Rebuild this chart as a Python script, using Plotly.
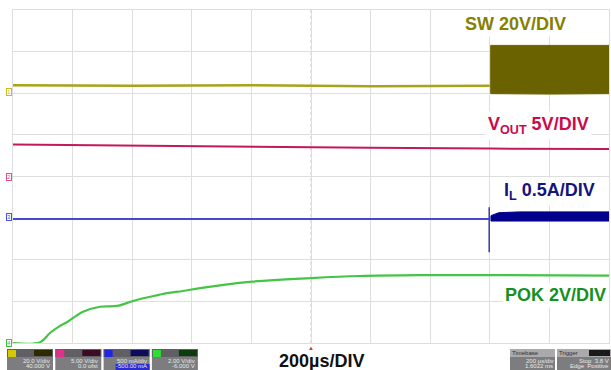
import plotly.graph_objects as go

# ---------------- data (time in µs, amplitude in screen divisions) ----------------
time_range = [0, 2000]          # 10 div x 200 µs/div
div_range = [0, 8]              # 8 vertical divisions

# SW (20 V/div): quiet line, then switching band
sw_line_t = [0, 400, 800, 1200, 1600]
sw_line_v = [6.19, 6.18, 6.19, 6.17, 6.18]
sw_band_t = [1603, 1800, 2000]
sw_band_top = [7.15, 7.15, 7.15]
sw_band_bot = [5.99, 5.98, 5.99]

# VOUT (5 V/div)
vout_t = [0, 400, 800, 1200, 1600, 2000]
vout_v = [4.77, 4.74, 4.71, 4.69, 4.67, 4.66]

# IL (0.5 A/div)
il_line_t = [0, 400, 800, 1200, 1598]
il_line_v = [2.98, 2.98, 2.98, 2.98, 2.98]
il_spike_t = [1598, 1598]
il_spike_v = [3.26, 2.18]
il_band_t = [1604, 1630, 1700, 2000]
il_band_top = [3.06, 3.13, 3.15, 3.15]
il_band_bot = [2.93, 2.93, 2.93, 2.93]

# POK (2 V/div)
pok_t = [0, 91, 124, 158, 181, 235, 292, 349, 403, 460, 517, 570, 628,
         795, 1000, 1164, 1366, 1634, 2000]
pok_v = [0.0, 0.02, 0.24, 0.41, 0.50, 0.75, 0.87, 0.89, 1.01, 1.11, 1.20,
         1.25, 1.32, 1.47, 1.56, 1.61, 1.63, 1.63, 1.62]

labels = ["SW 20V/DIV", "V<sub>OUT</sub> 5V/DIV", "I<sub>L</sub> 0.5A/DIV", "POK 2V/DIV"]
x_title = "200µs/DIV"

# ---------------- figure ----------------
W, H = 611, 370
ML, MR, MT, MB = 13, 2, 10, 27
PW, PH = W - ML - MR, H - MT - MB


def px(x):
    return (x - ML) / PW


def py(y):
    return (H - MB - y) / PH


FONT = "Liberation Sans, Arial, sans-serif"
fig = go.Figure()

# SW
fig.add_trace(go.Scatter(x=sw_line_t, y=sw_line_v, mode="lines",
                         line=dict(color="#a9a21c", width=2.5), hoverinfo="skip"))
fig.add_trace(go.Scatter(x=sw_band_t + sw_band_t[::-1] + [sw_band_t[0]],
                         y=sw_band_top + sw_band_bot[::-1] + [sw_band_top[0]],
                         mode="lines", fill="toself", fillcolor="#6a6200",
                         line=dict(color="#6a6200", width=1), hoverinfo="skip"))
# VOUT
fig.add_trace(go.Scatter(x=vout_t, y=vout_v, mode="lines",
                         line=dict(color="#c4185c", width=2), hoverinfo="skip"))
# IL
fig.add_trace(go.Scatter(x=il_line_t, y=il_line_v, mode="lines",
                         line=dict(color="#4747d6", width=2), hoverinfo="skip"))
fig.add_trace(go.Scatter(x=il_spike_t, y=il_spike_v, mode="lines",
                         line=dict(color="#3a3aa0", width=1.5), hoverinfo="skip"))
fig.add_trace(go.Scatter(x=il_band_t + il_band_t[::-1] + [il_band_t[0]],
                         y=il_band_top + il_band_bot[::-1] + [il_band_top[0]],
                         mode="lines", fill="toself", fillcolor="#00008c",
                         line=dict(color="#00008c", width=1), hoverinfo="skip"))
# POK
fig.add_trace(go.Scatter(x=pok_t, y=pok_v, mode="lines", line_shape="spline",
                         line=dict(color="#45c445", width=2.2), hoverinfo="skip"))

shapes = []
# dotted centre lines
shapes.append(dict(type="line", xref="x", yref="y", x0=time_range[0], x1=time_range[1],
                   y0=4, y1=4, line=dict(color="#c9c9c9", width=1, dash="dot"), layer="below"))
shapes.append(dict(type="line", xref="x", yref="y", x0=1000, x1=1000,
                   y0=div_range[0], y1=div_range[1],
                   line=dict(color="#c9c9c9", width=1, dash="dot"), layer="below"))

# status boxes (bottom left)
ch_cols = ["#d6c800", "#e0308c", "#2424e6", "#2ee02e"]
chip_cols = ["#2e2a00", "#3c0c24", "#0c0c5a", "#0c3c0c"]
ch_txt = [("20.0 V/div", "40.000 V"), ("5.00 V/div", "0.0 ofst"),
          ("500 mA/div", "-500.00 mA"), ("2.00 V/div", "-6.000 V")]
annotations = []
for i in range(4):
    x0 = 7 + i * 48.3
    x1 = x0 + 46
    shapes.append(dict(type="rect", xref="paper", yref="paper", x0=px(x0), x1=px(x1),
                       y0=py(370), y1=py(349), fillcolor="#7d7d80", line=dict(width=0)))
    shapes.append(dict(type="rect", xref="paper", yref="paper", x0=px(x0), x1=px(x1),
                       y0=py(357), y1=py(349), fillcolor="#5f5f64", line=dict(width=0)))
    shapes.append(dict(type="rect", xref="paper", yref="paper", x0=px(x0 + 1), x1=px(x0 + 9),
                       y0=py(357), y1=py(350), fillcolor=ch_cols[i], line=dict(width=0)))
    shapes.append(dict(type="rect", xref="paper", yref="paper", x0=px(x0 + 27), x1=px(x1 - 1),
                       y0=py(356), y1=py(350), fillcolor=chip_cols[i], line=dict(width=0)))
    if i == 2:
        shapes.append(dict(type="rect", xref="paper", yref="paper", x0=px(x0 + 12), x1=px(x1),
                           y0=py(370), y1=py(364), fillcolor="#2b2bd0", line=dict(width=0)))
    for j, t in enumerate(ch_txt[i]):
        annotations.append(dict(xref="paper", yref="paper", x=px(x1 - 2), y=py(360.5 + j * 5.5),
                                text=t, showarrow=False, xanchor="right", yanchor="middle",
                                borderpad=0,
                                font=dict(family=FONT, size=6, color="#e8e8e8")))

# status boxes (bottom right)
for x0, x1, title in [(510, 555, "Timebase"), (557, 611, "Trigger")]:
    shapes.append(dict(type="rect", xref="paper", yref="paper", x0=px(x0), x1=px(x1),
                       y0=py(370), y1=py(349), fillcolor="#7d7d80", line=dict(width=0)))
    shapes.append(dict(type="rect", xref="paper", yref="paper", x0=px(x0), x1=px(x1),
                       y0=py(357), y1=py(349), fillcolor="#a9a9ae", line=dict(width=0)))
    annotations.append(dict(xref="paper", yref="paper", x=px(x0 + 1), y=py(353),
                            text=title, showarrow=False, xanchor="left", yanchor="middle",
                            borderpad=0,
                            font=dict(family=FONT, size=6, color="#303030")))
shapes.append(dict(type="rect", xref="paper", yref="paper", x0=px(589), x1=px(610),
                   y0=py(356), y1=py(350), fillcolor="#1a1a1a", line=dict(width=0)))
for x1, y, t in [(554, 360.5, "200 µs/div"), (554, 366, "1.6022 ms"),
                 (610, 360.5, "Stop  3.8 V"), (610, 366, "Edge  Positive")]:
    annotations.append(dict(xref="paper", yref="paper", x=px(x1), y=py(y), text=t,
                            showarrow=False, xanchor="right", yanchor="middle", borderpad=0,
                            font=dict(family=FONT, size=6, color="#e8e8e8")))

# trigger marker at bottom centre
annotations.append(dict(xref="x", yref="paper", x=1000, y=0, text="▲", showarrow=False,
                        yanchor="top", borderpad=0, font=dict(size=6, color="#e03030")))

# channel reference markers at left edge
for col, yv, t in [("#c8bc20", 6.03, "1"), ("#e05090", 3.99, "2"),
                   ("#5050e0", 3.03, "3"), ("#40c040", 0.0, "4")]:
    annotations.append(dict(xref="paper", yref="y", x=px(12), y=yv, text=t, showarrow=False,
                            xanchor="right", yanchor="middle", bgcolor="white",
                            bordercolor=col, borderwidth=1, borderpad=0,
                            font=dict(family=FONT, size=6, color=col)))

# channel labels
lab_specs = [
    (labels[0], 515, 24, "#868000"),
    (labels[1], 538, 125, "#cc0a4a"),
    (labels[2], 549, 191, "#14147e"),
    (labels[3], 555, 295, "#17901c"),
]
for text, cx, cy, col in lab_specs:
    annotations.append(dict(xref="paper", yref="paper", x=px(cx), y=py(cy), text=text,
                            showarrow=False, xanchor="center", yanchor="middle",
                            bgcolor="white", borderpad=2,
                            font=dict(family=FONT, size=18, color=col, weight="bold")))

annotations.append(dict(xref="paper", yref="paper", x=px(322), y=py(361), text=x_title,
                        showarrow=False, xanchor="center", yanchor="middle",
                        font=dict(family=FONT, size=18, color="#111111", weight="bold")))

grid_col = "#dedede"
fig.update_layout(
    width=W, height=H,
    margin=dict(l=ML, r=MR, t=MT, b=MB),
    paper_bgcolor="white", plot_bgcolor="white",
    showlegend=False,
    shapes=shapes, annotations=annotations,
    xaxis=dict(range=time_range, dtick=200, tick0=0, showgrid=True, gridcolor=grid_col,
               gridwidth=1, zeroline=False, showticklabels=False, ticks="",
               showline=True, mirror=True, linecolor=grid_col, fixedrange=True),
    yaxis=dict(range=div_range, dtick=1, tick0=0, showgrid=True, gridcolor=grid_col,
               gridwidth=1, zeroline=False, showticklabels=False, ticks="",
               showline=True, mirror=True, linecolor=grid_col, fixedrange=True),
)

fig.write_html("out.html", config={"displayModeBar": False},
               post_script="document.body.style.margin='0';document.body.style.overflow='hidden';")
